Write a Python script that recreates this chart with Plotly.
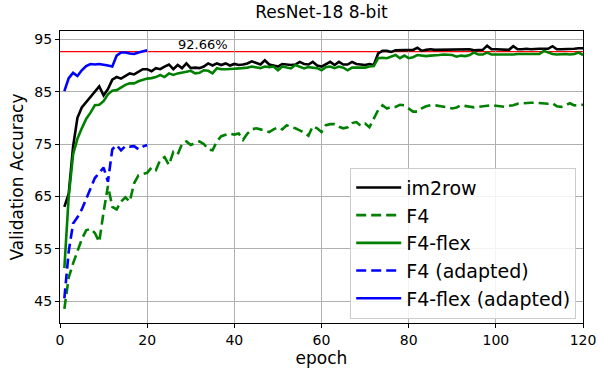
import plotly.graph_objects as go

epochs = list(range(1, 121))
epochs_adapted = list(range(1, 21))

im2row = [63.0, 65.5, 74.5, 80.0, 82.0, 83.0, 84.0, 85.0, 86.0, 84.3,
          85.5, 87.3, 87.8, 87.5, 88.0, 88.5, 88.3, 88.8, 89.3, 89.3,
          88.9, 89.5, 89.3, 89.8, 90.2, 89.3, 90.1, 89.5, 90.4, 89.5,
          89.6, 89.5, 89.8, 90.4, 90.0, 90.4, 90.1, 90.4, 90.0, 90.3,
          90.1, 90.2, 90.4, 90.8, 90.5, 90.2, 91.0, 90.2, 90.0, 89.8,
          90.3, 90.2, 90.1, 90.2, 90.7, 90.3, 90.2, 90.7, 90.0, 89.8,
          90.2, 90.7, 90.1, 90.7, 90.2, 90.2, 90.7, 90.3, 90.2, 90.1,
          90.3, 90.1, 92.3, 92.8, 92.8, 92.6, 92.9, 92.95, 92.9, 93.0,
          93.0, 93.4, 92.8, 93.0, 93.1, 93.0, 93.0, 93.1, 93.0, 93.1,
          93.0, 93.0, 93.1, 93.1, 92.9, 93.0, 93.0, 93.8, 93.1, 93.1,
          93.1, 93.0, 93.0, 93.7, 93.1, 93.1, 93.2, 93.1, 93.2, 93.2,
          93.2, 93.2, 93.7, 93.1, 93.1, 93.1, 93.2, 93.2, 93.3, 93.3]

f4 = [43.5, 49.5, 52.2, 54.5, 56.8, 58.5, 58.8, 58.0, 56.3, 62.0,
      67.0, 63.0, 62.5, 64.0, 64.8, 64.0, 67.5, 69.0, 69.2, 69.5,
      70.5, 70.0, 72.0, 72.5, 71.0, 73.5, 73.0, 75.0, 75.5, 74.8,
      75.2, 75.5, 75.0, 74.0, 73.8, 75.5, 76.5, 76.8, 77.0, 76.8,
      77.0, 75.8, 77.0, 77.8, 78.0, 77.8, 77.6, 77.3, 77.8, 78.2,
      77.8, 78.6, 78.2, 78.0, 77.6, 77.2, 76.6, 78.4, 78.0, 77.3,
      78.6, 78.8, 78.8, 78.3, 78.0, 78.2, 79.0, 79.2, 78.5, 78.9,
      78.2, 80.0, 81.5, 82.4, 81.8, 82.1, 82.1, 82.5, 82.4, 81.8,
      81.2, 81.2, 81.8, 82.2, 82.4, 82.4, 82.3, 82.1, 82.0, 81.8,
      82.0, 82.4, 82.3, 82.1, 82.0, 82.1, 82.2, 82.4, 82.4, 82.3,
      82.2, 82.1, 82.3, 82.4, 82.7, 82.8, 82.9, 82.9, 82.9, 82.8,
      82.8, 82.7, 82.8, 82.2, 82.1, 82.4, 82.8, 82.4, 82.5, 82.5]

f4_flex = [51.3, 65.0, 73.0, 76.0, 78.0, 79.8, 81.0, 82.4, 82.5, 83.2,
           84.5, 85.2, 85.3, 85.8, 86.3, 86.6, 86.6, 87.0, 87.3, 87.5,
           87.6, 87.8, 88.2, 87.8, 88.5, 88.2, 88.5, 88.6, 88.8, 89.0,
           88.5, 88.6, 89.1, 89.0, 88.5, 89.5, 89.3, 89.3, 89.4, 89.4,
           89.45, 89.5, 89.6, 89.8, 89.6, 89.5, 89.8, 89.7, 89.8, 89.1,
           89.8, 89.6, 89.45, 90.1, 89.7, 89.45, 89.7, 89.6, 89.5, 89.1,
           89.7, 89.8, 89.5, 89.8, 89.6, 89.1, 89.6, 89.6, 89.6, 89.6,
           89.8, 89.9, 91.4, 91.5, 91.4, 91.7, 92.0, 91.4, 91.9, 91.4,
           91.6, 92.0, 91.9, 91.8, 91.9, 91.9, 92.0, 92.1, 92.0, 92.0,
           91.7, 91.9, 91.8, 92.0, 92.5, 92.1, 92.1, 92.5, 92.1, 92.1,
           92.1, 92.1, 92.0, 92.1, 92.2, 92.2, 92.2, 92.2, 92.1, 92.2,
           92.8, 92.5, 92.2, 92.1, 92.2, 92.2, 92.1, 92.2, 92.5, 92.0]

f4_adapted = [45.5, 54.5, 59.8, 61.0, 62.5, 64.5, 66.5, 68.5, 69.5, 70.5,
              67.8, 74.0, 74.8, 73.8, 74.6, 74.5, 74.6, 74.0, 74.5, 74.8]

f4_flex_adapted = [85.1, 87.6, 88.6, 88.0, 89.1, 89.9, 90.3, 90.2, 90.3, 90.2,
                   90.0, 89.8, 91.9, 92.5, 92.5, 92.3, 92.2, 92.5, 92.7, 92.9]

ref_value = 92.66
ref_label = "92.66%"
x_ticks = [0, 20, 40, 60, 80, 100, 120]
y_ticks = [45, 55, 65, 75, 85, 95]

FONT = "DejaVu Sans"
LW = 2.6
DASH = "10px,5px"

fig = go.Figure()
fig.add_trace(go.Scatter(x=epochs, y=im2row, mode="lines", name="im2row",
                         line=dict(color="black", width=LW)))
fig.add_trace(go.Scatter(x=epochs, y=f4, mode="lines", name="F4",
                         line=dict(color="#008000", width=LW, dash=DASH)))
fig.add_trace(go.Scatter(x=epochs, y=f4_flex, mode="lines", name="F4-flex",
                         line=dict(color="#008000", width=LW)))
fig.add_trace(go.Scatter(x=epochs_adapted, y=f4_adapted, mode="lines", name="F4 (adapted)",
                         line=dict(color="#0000ff", width=LW, dash=DASH)))
fig.add_trace(go.Scatter(x=epochs_adapted, y=f4_flex_adapted, mode="lines", name="F4-flex (adapted)",
                         line=dict(color="#0000ff", width=LW)))

fig.add_shape(type="line", xref="paper", x0=0, x1=1, yref="y", y0=ref_value, y1=ref_value,
              line=dict(color="#ff0000", width=1.2), layer="between")
fig.add_annotation(x=32.8, y=ref_value, xref="x", yref="y", text=ref_label, showarrow=False,
                   yanchor="bottom", yshift=-2, font=dict(family=FONT, size=13, color="black"))

axis_common = dict(showline=True, linecolor="black", linewidth=1, mirror=True,
                   ticks="outside", ticklen=4, tickcolor="black", tickwidth=1,
                   showgrid=True, gridcolor="#b0b0b0", gridwidth=1, zeroline=False,
                   automargin=False,
                   tickfont=dict(family=FONT, size=14, color="black"))

fig.update_xaxes(range=[0, 120], tickvals=x_ticks,
                 title=dict(text="epoch", font=dict(family=FONT, size=17, color="black"), standoff=4),
                 **axis_common)
fig.update_yaxes(range=[40.8, 96.6], tickvals=y_ticks,
                 title=dict(text="Validation Accuracy", font=dict(family=FONT, size=17, color="black"), standoff=6),
                 **axis_common)

fig.update_layout(
    width=601, height=371,
    margin=dict(l=60, r=18, t=31, b=48),
    plot_bgcolor="white", paper_bgcolor="white",
    title=dict(text="ResNet-18 8-bit", x=0.535, xanchor="center", y=0.967, yanchor="middle",
               font=dict(family=FONT, size=17, color="black")),
    showlegend=True,
    legend=dict(x=0.987, y=0.015, xanchor="right", yanchor="bottom",
                bgcolor="rgba(255,255,255,0.85)", bordercolor="#cccccc", borderwidth=1,
                font=dict(family=FONT, size=19, color="black"), tracegroupgap=0,
                itemwidth=45),
)

fig.write_html("out.html")
